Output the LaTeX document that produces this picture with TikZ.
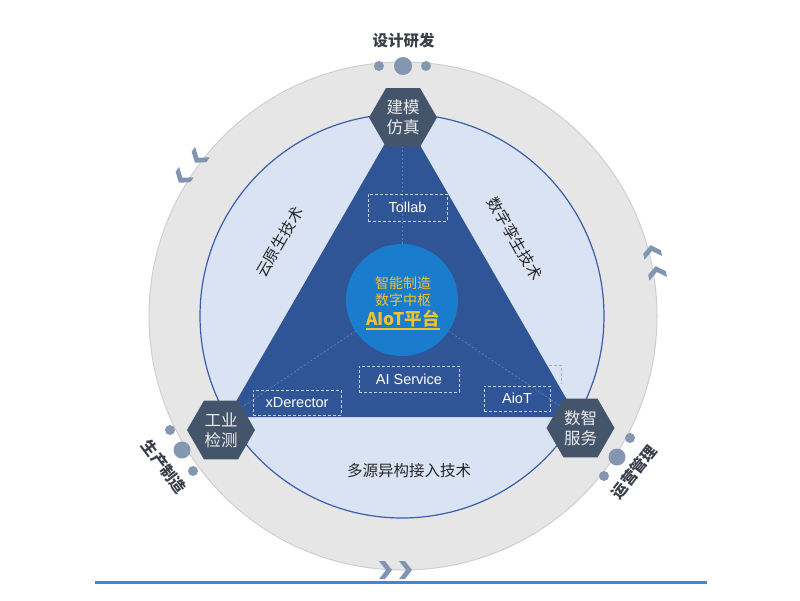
\documentclass[tikz,border=0pt]{standalone}
\usepackage{fontspec}
\setmainfont{Noto Sans CJK SC}
\newfontfamily\lat{Liberation Sans}
\usetikzlibrary{shapes.geometric}
\definecolor{ringfill}{HTML}{E7E6E6}
\definecolor{ringline}{HTML}{CFCFCF}
\definecolor{innerfill}{HTML}{DAE3F3}
\definecolor{innerline}{HTML}{3A5EA8}
\definecolor{trifill}{HTML}{2F5597}
\definecolor{hexfill}{HTML}{44546A}
\definecolor{hubfill}{HTML}{1A7CCC}
\definecolor{hubtext}{HTML}{F2C12E}
\definecolor{dotc}{HTML}{8496B0}
\definecolor{chevc}{HTML}{7F95B3}
\definecolor{boxline}{HTML}{C5D0E6}
\definecolor{fragline}{HTML}{9FB0D0}
\definecolor{spoke}{HTML}{5F80C4}
\definecolor{darktext}{HTML}{3A3F4A}
\definecolor{labeltext}{HTML}{262626}
\definecolor{baseblue}{HTML}{3D85E0}
\begin{document}
\begin{tikzpicture}[x=1pt,y=-1pt,
  hexnode/.style={regular polygon, regular polygon sides=6, minimum size=68pt, inner sep=0pt,
    fill=hexfill, text=white!92!black, align=center, font=\fontsize{16.5}{20}\selectfont},
  dbox/.style={draw=boxline, dash pattern=on 3pt off 2pt, line width=0.8pt, text=white,
    font=\lat\fontsize{14.5}{16}\selectfont, inner sep=0pt},
  spokeline/.style={draw=spoke, dash pattern=on 2pt off 2pt, line width=0.7pt},
  techlabel/.style={text=labeltext, font=\fontsize{15.5}{18}\selectfont},
  outerlabel/.style={text=darktext, font=\bfseries\fontsize{15.5}{18}\selectfont},
  dotsmall/.style={fill=dotc},
  chev/.pic={\fill[chevc] (-6,-9) -- (0,-9) -- (7,0) -- (0,9) -- (-6,9) -- (1,0) -- cycle;}
]
\useasboundingbox (0,0) rectangle (800,600);
% outer ring
\draw[fill=ringfill, draw=ringline, line width=1pt] (403,316) circle[radius=254];
% chevrons on the ring
\pic[rotate=235] at (199,157) {chev};
\pic[rotate=235] at (183,177) {chev};
\pic[rotate=102] at (652,252) {chev};
\pic[rotate=102] at (657,273) {chev};
\pic at (385,570) {chev};
\pic at (405,570) {chev};
% dots
\fill[dotsmall] (379,66) circle[radius=5];
\fill[dotsmall] (403,66) circle[radius=9];
\fill[dotsmall] (426,66) circle[radius=5];
\fill[dotsmall] (170,430) circle[radius=5];
\fill[dotsmall] (182,450) circle[radius=8.5];
\fill[dotsmall] (193,471) circle[radius=5];
\fill[dotsmall] (630,438) circle[radius=5];
\fill[dotsmall] (617,457) circle[radius=8.5];
\fill[dotsmall] (604,476) circle[radius=5];
% inner circle
\draw[fill=innerfill, draw=innerline, line width=1.2pt] (402,316) circle[radius=202];
% triangle
\coordinate (vt) at (402,114);
\coordinate (vl) at (227.1,417);
\coordinate (vr) at (576.9,417);
\fill[trifill] (vt) -- (vl) -- (vr) -- cycle;
% hub and spokes
\coordinate (hubc) at (402,300);
\draw[spokeline] (hubc) -- (vt);
\draw[spokeline] (hubc) -- (vl);
\draw[spokeline] (hubc) -- (vr);
\node[circle, fill=hubfill, minimum size=112pt, inner sep=0pt] (hub) at (hubc) {};
\node[text=hubtext, font=\fontsize{14}{17}\selectfont, align=center] (hubtxt) at (403,291.5) {智能制造\\数字中枢};
\node[text=hubtext, font=\bfseries\fontsize{17.5}{20}\selectfont, inner sep=0pt] (hubname) at (403,319) {AIoT平台};
\draw[hubtext, line width=1.3pt] ([yshift=-3pt]hubname.base west) -- ([yshift=-3pt]hubname.base east);
% dashed boxes
\node[dbox, minimum width=79pt, minimum height=27pt] (tollab) at (407.5,207.5) {Tollab};
\node[dbox, minimum width=100pt, minimum height=26pt] (aiserv) at (409,379) {AI Service};
\node[dbox, minimum width=88pt, minimum height=25pt] (xder) at (297,402.5) {xDerector};
\node[dbox, minimum width=66pt, minimum height=25pt] (aiot) at (517,398.5) {AioT};
\draw[draw=fragline, dash pattern=on 3pt off 2pt, line width=0.8pt] (549,365) -- (561,365) -- (561,384);
% hexagons
\node[hexnode] (hmodel) at (403,117.5) {建模\\仿真};
\node[hexnode] (hinsp) at (221,430) {工业\\检测};
\node[hexnode] (hserv) at (580.5,428) {数智\\服务};
% tech labels
\node[techlabel, rotate=60] (cloud) at (279.5,242) {云原生技术};
\node[techlabel, rotate=-60] (twin) at (515,238.5) {数字孪生技术};
\node[techlabel] (multi) at (409,471) {多源异构接入技术};
% outer labels
\node[outerlabel] (design) at (403.5,41) {设计研发};
\node[outerlabel, rotate=-53] (prod) at (164,467) {生产制造};
\node[outerlabel, rotate=52] (ops) at (634,472) {运营管理};
% base line
\draw[baseblue, line width=3pt] (95,582) -- (707,582);
\end{tikzpicture}
\end{document}
